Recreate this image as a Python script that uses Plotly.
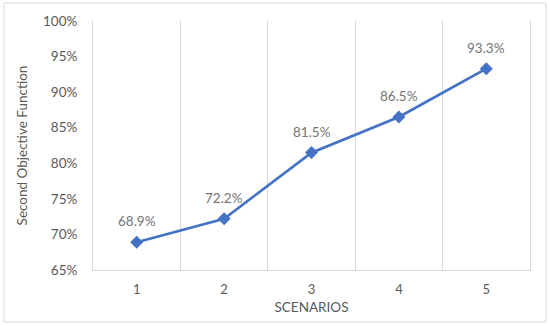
import plotly.graph_objects as go

scenarios = [1, 2, 3, 4, 5]
values = [0.689, 0.722, 0.815, 0.865, 0.933]
labels = ["68.9%", "72.2%", "81.5%", "86.5%", "93.3%"]
y_ticks = [0.65, 0.70, 0.75, 0.80, 0.85, 0.90, 0.95, 1.00]
y_ticktext = ["65%", "70%", "75%", "80%", "85%", "90%", "95%", "100%"]
boundaries = [1.5, 2.5, 3.5, 4.5]

blue = "#4472C4"
grid = "#d9d9d9"
txt = "#595959"
font_family = "Lato, 'Open Sans', sans-serif"

fig = go.Figure()
fig.add_trace(go.Scatter(
    x=scenarios, y=values, mode="lines+markers",
    line=dict(color=blue, width=2.75),
    marker=dict(symbol="diamond", size=10, color=blue),
    hoverinfo="skip", showlegend=False,
))

for x, y, t in zip(scenarios, values, labels):
    fig.add_annotation(x=x, y=y, text=t, showarrow=False, yshift=21,
                       font=dict(size=13.5, color="#757575", family=font_family))

fig.update_layout(
    width=550, height=326,
    margin=dict(l=93, r=20, t=21, b=56, autoexpand=False),
    paper_bgcolor="white", plot_bgcolor="white",
    font=dict(family=font_family, size=13, color=txt),
    xaxis=dict(
        range=[0.5, 5.5], tickvals=scenarios, ticktext=[str(s) for s in scenarios],
        showgrid=False, zeroline=False, automargin=False,
        showline=True, linecolor=grid, linewidth=1,
        ticks="", ticklabelstandoff=7,
        minor=dict(tickvals=boundaries, showgrid=True, gridcolor=grid, gridwidth=1, ticks=""),
        title=dict(text="SCENARIOS", font=dict(size=13.5, color=txt), standoff=6),
        tickfont=dict(size=13, color=txt),
        fixedrange=True,
    ),
    yaxis=dict(
        range=[0.65, 1.00], tickvals=y_ticks, ticktext=y_ticktext,
        showgrid=False, zeroline=False, automargin=False,
        showline=True, mirror=True, linecolor=grid, linewidth=1,
        ticks="", ticklabelstandoff=12,
        title=dict(text="Second Objective Function", font=dict(size=13.5, color=txt), standoff=12),
        tickfont=dict(size=13.5, color=txt),
        fixedrange=True,
    ),
    shapes=[dict(type="rect", xref="paper", yref="paper",
                 x0=-0.2037, x1=1.0366, y0=-0.2088, y1=1.0723,
                 line=dict(color="#d9d9d9", width=1), fillcolor="rgba(0,0,0,0)", layer="below")],
)

fig.write_html("out.html", config={"displayModeBar": False},
               post_script="document.body.style.margin='0';")
